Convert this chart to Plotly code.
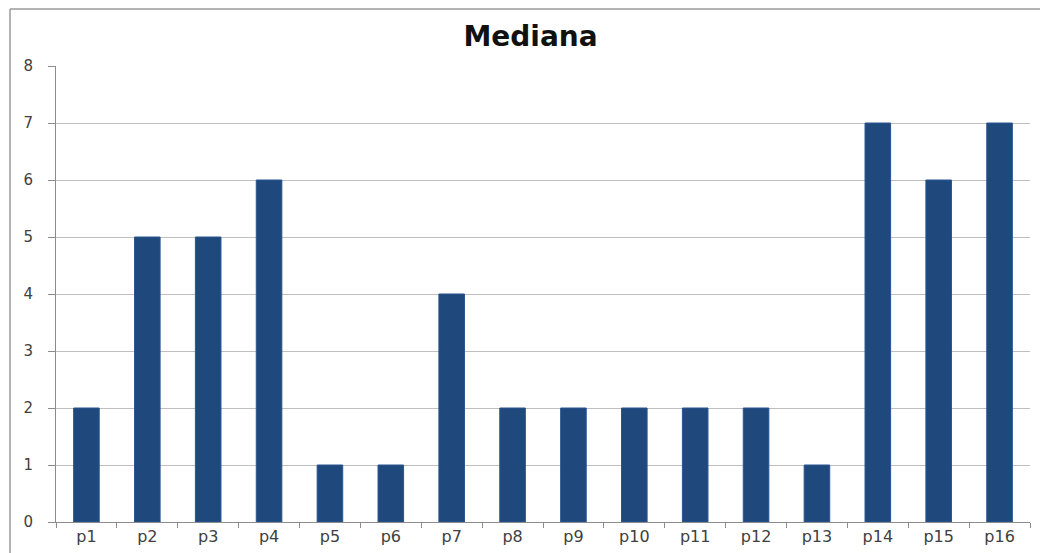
import plotly.graph_objects as go

categories = ["p1", "p2", "p3", "p4", "p5", "p6", "p7", "p8", "p9", "p10", "p11", "p12", "p13", "p14", "p15", "p16"]
values = [2, 5, 5, 6, 1, 1, 4, 2, 2, 2, 2, 2, 1, 7, 6, 7]
title_text = "Mediana"
y_ticks = [0, 1, 2, 3, 4, 5, 6, 7, 8]

W, H = 1040, 553
ml, mr, mt, mb = 56, 10, 66, 31
pw, ph = W - ml - mr, H - mt - mb

fig = go.Figure(go.Bar(
    x=categories, y=values,
    marker=dict(color="#1F497D", line=dict(color="#2A5590", width=1)),
    width=0.42,
))

fig.update_layout(
    width=W, height=H,
    margin=dict(l=ml, r=mr, t=mt, b=mb),
    paper_bgcolor="white", plot_bgcolor="white",
    font=dict(family="DejaVu Sans, sans-serif", color="#404040"),
    title=dict(text="<b>" + title_text + "</b>", x=(458 + 603) / 2 / W, xref="container", xanchor="center",
               y=1 - 36 / H, yanchor="middle",
               font=dict(size=28, color="#111111", family="DejaVu Sans, sans-serif")),
    showlegend=False,
)
fig.update_xaxes(
    showline=True, linecolor="#8c8c8c", linewidth=1,
    ticks="outside", tickson="boundaries", ticklen=5, tickcolor="#8c8c8c",
    tickfont=dict(size=16, color="#404040"),
    showgrid=False, automargin=False,
)
fig.update_yaxes(
    range=[0, 8], tickvals=y_ticks,
    showline=True, linecolor="#8c8c8c", linewidth=1,
    ticks="outside", ticklen=7, tickcolor="#8c8c8c",
    ticklabelstandoff=12,
    showgrid=True, gridcolor="#bfbfbf", gridwidth=1,
    tickfont=dict(size=15, color="#404040"),
    zeroline=False, automargin=False,
)

# chart frame (left and top edges visible)
x0 = (10 - ml) / pw
y0 = 1 + (mt - 9) / ph
fig.add_shape(type="line", xref="paper", yref="paper", x0=x0, x1=x0, y0=y0, y1=-0.2,
              line=dict(color="#9a9a9a", width=1.5))
fig.add_shape(type="line", xref="paper", yref="paper", x0=x0, x1=1.2, y0=y0, y1=y0,
              line=dict(color="#9a9a9a", width=1.5))

fig.write_html("out.html")
